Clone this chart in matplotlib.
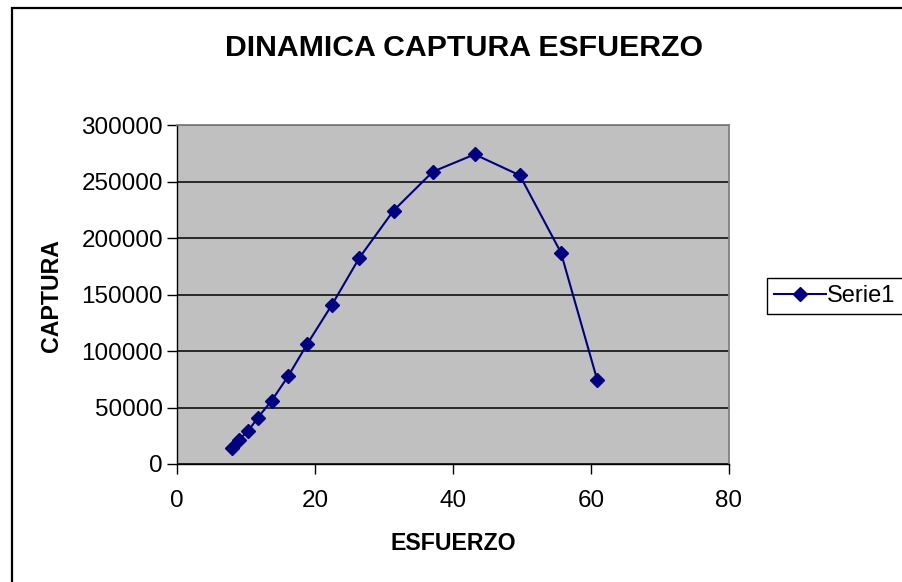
import matplotlib
matplotlib.use("Agg")
import matplotlib.pyplot as plt
from matplotlib.lines import Line2D
from matplotlib.patches import Rectangle

plt.rcParams['font.family'] = ['Liberation Sans', 'DejaVu Sans']

esfuerzo = [7.91, 8.97, 10.34, 11.71, 13.71, 16.09, 18.83, 22.42, 26.42,
            31.38, 37.08, 43.14, 49.68, 55.64, 60.92]
captura = [14140, 21500, 29460, 40950, 55980, 77490, 105770, 140540, 182380,
           224220, 258690, 274010, 255450, 187090, 73950]
x_ticks = [0, 20, 40, 60, 80]
y_ticks = [0, 50000, 100000, 150000, 200000, 250000, 300000]
title = "DINAMICA CAPTURA ESFUERZO"
x_label = "ESFUERZO"
y_label = "CAPTURA"
series_name = "Serie1"

W, H = 903, 582
fig = plt.figure(figsize=(W / 100, H / 100), dpi=100)
fig.patch.set_facecolor('white')

# outer chart border
fig.patches.append(Rectangle((12 / W, -0.05), 1.2, 1 - 8 / H + 0.05,
                             transform=fig.transFigure, fill=False,
                             edgecolor='black', linewidth=1.6, zorder=0))

ax = fig.add_axes([177 / W, 1 - 464 / H, (729 - 177) / W, (464 - 125) / H])
ax.set_facecolor('#C0C0C0')
ax.plot(esfuerzo, captura, color='#000080', linewidth=1.5, marker='D',
        markersize=7, markerfacecolor='#000080', markeredgecolor='#000080',
        zorder=3)

ax.set_xlim(0, 80)
ax.set_ylim(0, 300000)
ax.set_xticks(x_ticks)
ax.set_yticks(y_ticks)
ax.set_xticklabels([str(v) for v in x_ticks])
ax.set_yticklabels([str(v) for v in y_ticks])
ax.tick_params(axis='both', labelsize=17.5, direction='out', length=7,
               width=1, color='black')
ax.tick_params(axis='x', pad=12)
ax.tick_params(axis='y', pad=3)
ax.grid(axis='y', color='black', linewidth=1.1, zorder=1)
ax.set_axisbelow(True)
for side in ['top', 'right']:
    ax.spines[side].set_color('#808080')
    ax.spines[side].set_linewidth(1.3)
for side in ['left', 'bottom']:
    ax.spines[side].set_color('black')
    ax.spines[side].set_linewidth(1.0)

fig.text(464 / W, 1 - 48 / H, title, ha='center', va='center',
         fontsize=21.8, fontweight='bold')
fig.text(453 / W, 1 - 544 / H, x_label, ha='center', va='center',
         fontsize=16.7, fontweight='bold')
fig.text(52 / W, 1 - 295 / H, y_label, ha='center', va='center',
         fontsize=16.7, fontweight='bold', rotation=90)

handle = Line2D([], [], color='#000080', linewidth=1.5, marker='D',
                markersize=7, markerfacecolor='#000080',
                markeredgecolor='#000080')
leg = fig.legend([handle], [series_name], loc='upper left',
                 bbox_to_anchor=(767 / W, 1 - 278 / H),
                 bbox_transform=fig.transFigure, fontsize=17,
                 frameon=True, fancybox=False, framealpha=1,
                 edgecolor='black', borderpad=0.3, handlelength=2.2,
                 handletextpad=0.05, borderaxespad=0)
leg.get_frame().set_linewidth(1.0)

fig.savefig('out.png', dpi=100)
